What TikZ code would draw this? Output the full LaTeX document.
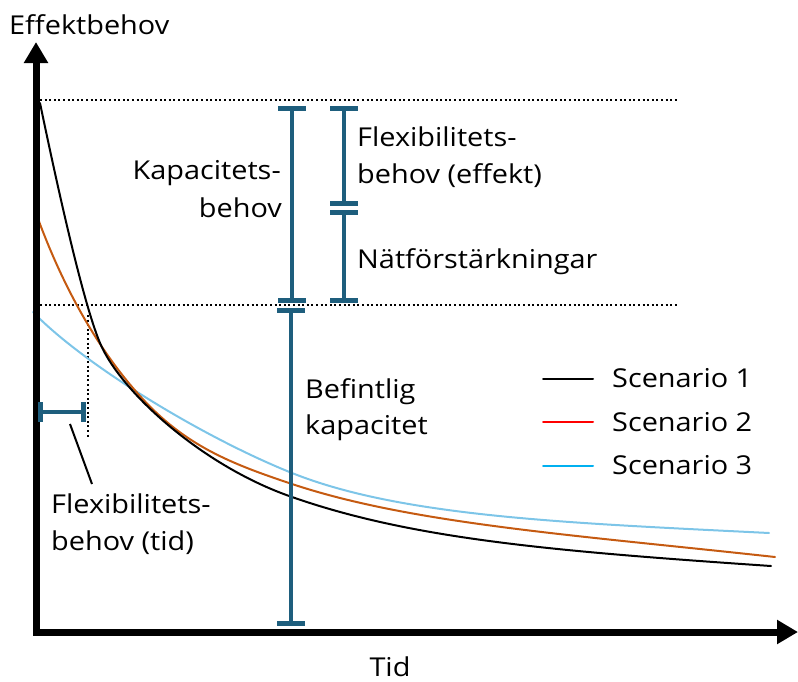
\documentclass[tikz,border=0pt]{standalone}
\usepackage{fontspec}
\setmainfont{Open Sans}[FakeStretch=1.11]
\usetikzlibrary{arrows.meta}
\definecolor{barc}{RGB}{30,94,125}
\definecolor{orangec}{RGB}{197,90,17}
\definecolor{bluec}{RGB}{125,197,232}
\definecolor{legblue}{RGB}{0,176,240}
\begin{document}
\begin{tikzpicture}[x=1pt,y=-1pt,
  lbl/.style={inner sep=0pt,font=\fontsize{26}{31}\selectfont},
  axisline/.style={line width=7pt,-{Triangle[width=23pt,length=21pt]}},
  dotline/.style={line width=2pt,dash pattern=on 2pt off 2.6pt},
  barline/.style={barc,line width=4pt},
  capline/.style={barc,line width=5pt},
  curve/.style={line width=2pt,line cap=round}]
\useasboundingbox (0,0) rectangle (798,681);
% dotted guides
\draw[dotline] (40,100) -- (678,100);
\draw[dotline] (40,305) -- (678,305);
\draw[dotline] (88,315) -- (88,438);
% curves
\draw[curve,bluec] (33,312) .. controls (83,364) and (202,437) .. (292,473)
  .. controls (402,517) and (569,523) .. (769,533);
\draw[curve,orangec] (37,216) .. controls (64,290) and (100,352) .. (140,396)
  .. controls (185,446) and (232,464) .. (292,484)
  .. controls (412,524) and (575,535) .. (775,557);
\draw[curve,black] (40,103) .. controls (55,175) and (82,300) .. (100,343)
  .. controls (120,391) and (202,466) .. (292,497)
  .. controls (412,539) and (551,551) .. (771,566);
% axes
\coordinate (origin) at (33,632);
\coordinate (ytip) at (36,42);
\coordinate (xtip) at (798,632);
\draw[axisline] (36,635.5) -- (ytip);
\draw[axisline] (origin) -- (xtip);
% bars
\draw[barline] (292,108) -- (292,300);
\draw[capline] (278,108) -- (306,108);
\draw[capline] (278,300) -- (306,300);
\draw[barline] (344,108) -- (344,203);
\draw[capline] (330,108) -- (358,108);
\draw[capline] (330,203) -- (358,203);
\draw[barline] (344,212) -- (344,300);
\draw[capline] (330,212) -- (358,212);
\draw[capline] (330,300) -- (358,300);
\draw[barline] (291,310) -- (291,623);
\draw[capline] (277,310) -- (305,310);
\draw[capline] (277,623) -- (305,623);
\draw[barline] (40,412) -- (83,412);
\draw[capline] (40,402) -- (40,422);
\draw[capline] (83,402) -- (83,422);
% leader
\coordinate (ldA) at (70,424);
\coordinate (ldB) at (92,484);
\draw[line width=2pt] (ldA) -- (ldB);
% labels
\node[lbl,anchor=base west] (ylab) at (9,34) {Effektbehov};
\node[lbl,anchor=base] (xlab) at (390,676) {Tid};
\node[lbl,anchor=base east] (kap1) at (281,179) {Kapacitets-};
\node[lbl,anchor=base east] (kap2) at (282,217) {behov};
\node[lbl,anchor=base west] (fe1) at (357,146) {Flexibilitets-};
\node[lbl,anchor=base west] (fe2) at (357,183) {behov (effekt)};
\node[lbl,anchor=base west] (nat) at (357,268) {Nätförstärkningar};
\node[lbl,anchor=base west] (bef1) at (305,398) {Befintlig};
\node[lbl,anchor=base west] (bef2) at (305,434) {kapacitet};
\node[lbl,anchor=base west] (ft1) at (51,513) {Flexibilitets-};
\node[lbl,anchor=base west] (ft2) at (51,550) {behov (tid)};
% legend
\draw[curve,black] (543,379) -- (593,379);
\draw[curve,red] (543,422) -- (593,422);
\draw[curve,legblue] (543,466) -- (593,466);
\node[lbl,anchor=base west] (s1) at (612,387) {Scenario 1};
\node[lbl,anchor=base west] (s2) at (612,431) {Scenario 2};
\node[lbl,anchor=base west] (s3) at (612,474) {Scenario 3};
\end{tikzpicture}
\end{document}
